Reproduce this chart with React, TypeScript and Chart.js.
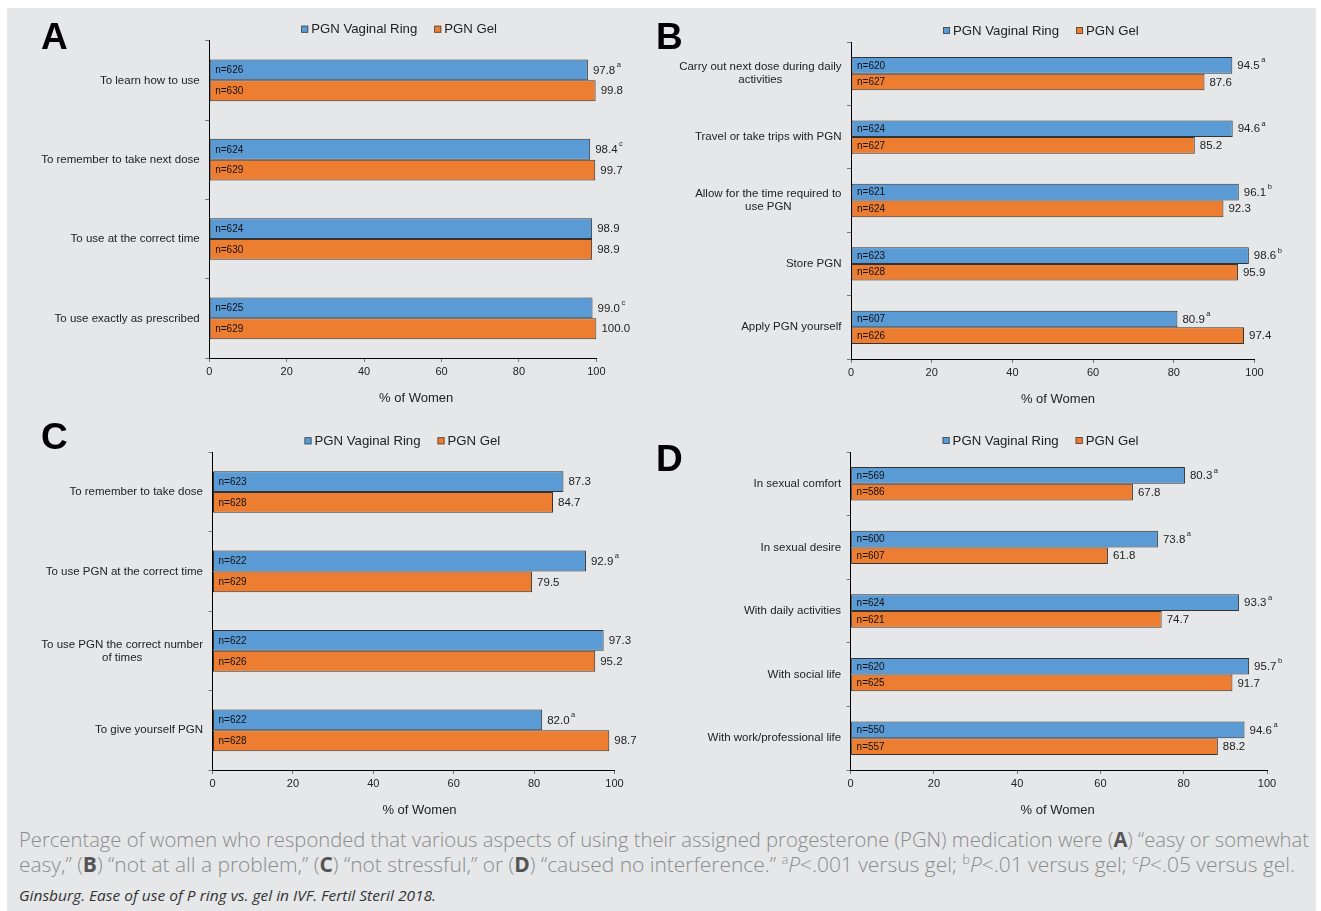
import React, { useEffect, useLayoutEffect, useRef } from "react";
import { Chart, registerables } from "chart.js";

Chart.register(...registerables);

// ---------- data ----------
const SERIES_RING = "PGN Vaginal Ring";
const SERIES_GEL = "PGN Gel";
const X_TICK_STEP = 20;
const X_MIN = 0;
const X_MAX = 100;
const X_TITLE = "% of Women";

// Panel A – "easy or somewhat easy"
const aCategories = [
  "To learn how to use",
  "To remember to take next dose",
  "To use at the correct time",
  "To use exactly as prescribed",
];
const aRing = [97.8, 98.4, 98.9, 99.0];
const aGel = [99.8, 99.7, 98.9, 100.0];
const aRingN = [626, 624, 624, 625];
const aGelN = [630, 629, 630, 629];
const aRingSig = ["a", "c", "", "c"];
const aGelSig = ["", "", "", ""];

// Panel B – "not at all a problem"
const bCategories = [
  ["Carry out next dose during daily", "activities"],
  "Travel or take trips with PGN",
  ["Allow for the time required to", "use PGN"],
  "Store PGN",
  "Apply PGN yourself",
];
const bRing = [94.5, 94.6, 96.1, 98.6, 80.9];
const bGel = [87.6, 85.2, 92.3, 95.9, 97.4];
const bRingN = [620, 624, 621, 623, 607];
const bGelN = [627, 627, 624, 628, 626];
const bRingSig = ["a", "a", "b", "b", "a"];
const bGelSig = ["", "", "", "", ""];

// Panel C – "not stressful"
const cCategories = [
  "To remember to take dose",
  "To use PGN at the correct time",
  ["To use PGN the correct number", "of times"],
  "To give yourself PGN",
];
const cRing = [87.3, 92.9, 97.3, 82.0];
const cGel = [84.7, 79.5, 95.2, 98.7];
const cRingN = [623, 622, 622, 622];
const cGelN = [628, 629, 626, 628];
const cRingSig = ["", "a", "", "a"];
const cGelSig = ["", "", "", ""];

// Panel D – "caused no interference"
const dCategories = [
  "In sexual comfort",
  "In sexual desire",
  "With daily activities",
  "With social life",
  "With work/professional life",
];
const dRing = [80.3, 73.8, 93.3, 95.7, 94.6];
const dGel = [67.8, 61.8, 74.7, 91.7, 88.2];
const dRingN = [569, 600, 624, 620, 550];
const dGelN = [586, 607, 621, 625, 557];
const dRingSig = ["a", "a", "a", "b", "a"];
const dGelSig = ["", "", "", "", ""];

// ---------- style ----------
const FONT = "'Liberation Sans', Arial, Helvetica, sans-serif";
const BLUE = "#5b9bd5";
const ORANGE = "#ed7d31";
const BAR_BORDER = "#333333";
const TEXT = "#222222";
const PAGE_GRAY = "#e6e7e8";
const YW = 10; // y-axis box width
const XH = 30; // x-axis box height

type Layout = { cl: number; ct: number; w: number; h: number; pl: number; pr: number; pt: number; pb: number };

const annotPlugin = {
  id: "annot",
  afterDatasetsDraw(chart: any, _args: any, opts: any) {
    const ctx = chart.ctx as CanvasRenderingContext2D;
    const ca = chart.chartArea;
    ctx.save();
    ctx.textAlign = "left";
    ctx.textBaseline = "middle";
    chart.data.datasets.forEach((ds: any, d: number) => {
      const meta = chart.getDatasetMeta(d);
      const counts = opts.counts[d];
      const sig = opts.sig[d];
      meta.data.forEach((bar: any, i: number) => {
        ctx.font = `10px ${FONT}`;
        ctx.fillStyle = "#111111";
        ctx.fillText("n=" + counts[i], ca.left + 6, bar.y + 0.5);
        const v = Number(ds.data[i]).toFixed(1);
        ctx.font = `11.5px ${FONT}`;
        ctx.fillStyle = TEXT;
        const vx = bar.x + 5;
        ctx.fillText(v, vx, bar.y + 0.5);
        if (sig[i]) {
          const w = ctx.measureText(v).width;
          ctx.font = `7.5px ${FONT}`;
          ctx.fillText(sig[i], vx + w + 1.5, bar.y - 5);
        }
      });
    });
    ctx.restore();
  },
  afterDraw(chart: any) {
    const ctx = chart.ctx as CanvasRenderingContext2D;
    const ca = chart.chartArea;
    const yScale = chart.scales.y;
    ctx.save();
    // category labels
    ctx.font = `11.5px ${FONT}`;
    ctx.fillStyle = TEXT;
    ctx.textAlign = "center";
    ctx.textBaseline = "middle";
    chart.data.labels.forEach((lab: any, i: number) => {
      const lines: string[] = Array.isArray(lab) ? lab : [lab];
      const w = Math.max(...lines.map((l) => ctx.measureText(l).width));
      const cx = ca.left - 9.5 - w / 2;
      const cy = yScale.getPixelForValue(i);
      const lh = 13;
      lines.forEach((l, k) => ctx.fillText(l, cx, cy + (k - (lines.length - 1) / 2) * lh));
    });
    // legend
    ctx.font = `13.2px ${FONT}`;
    ctx.textAlign = "left";
    let lx = ca.left + 92;
    const ly = ca.top - 11.5;
    chart.data.datasets.forEach((ds: any) => {
      ctx.fillStyle = ds.backgroundColor;
      ctx.fillRect(lx, ly - 3.5, 7, 7);
      ctx.strokeStyle = "#444444";
      ctx.lineWidth = 0.8;
      ctx.strokeRect(lx + 0.4, ly - 3.1, 6.2, 6.2);
      ctx.fillStyle = TEXT;
      ctx.fillText(ds.label, lx + 10, ly + 0.5);
      lx += 10 + ctx.measureText(ds.label).width + 17;
    });
    // x axis title
    ctx.font = `13px ${FONT}`;
    ctx.textAlign = "center";
    ctx.fillText(X_TITLE, ca.left + 207, ca.bottom + 40.5);
    ctx.restore();
  },
};

function BarPanel(props: {
  categories: any[];
  ring: number[];
  gel: number[];
  ringN: number[];
  gelN: number[];
  ringSig: string[];
  gelSig: string[];
  layout: Layout;
}) {
  const ref = useRef<HTMLCanvasElement>(null);
  const L = props.layout;
  useEffect(() => {
    if (!ref.current) return;
    const common = { borderColor: BAR_BORDER, borderWidth: 1, borderSkipped: false, categoryPercentage: 0.525, barPercentage: 1 };
    const chart = new Chart(ref.current, {
      type: "bar",
      data: {
        labels: props.categories,
        datasets: [
          { label: SERIES_RING, data: props.ring, backgroundColor: BLUE, ...common },
          { label: SERIES_GEL, data: props.gel, backgroundColor: ORANGE, ...common },
        ],
      },
      options: {
        indexAxis: "y",
        responsive: false,
        maintainAspectRatio: false,
        animation: false,
        events: [],
        layout: {
          padding: {
            left: L.pl - L.cl - YW,
            right: L.cl + L.w - L.pr,
            top: L.pt - L.ct,
            bottom: L.ct + L.h - L.pb - XH,
          },
        },
        plugins: {
          legend: { display: false },
          tooltip: { enabled: false },
          annot: { counts: [props.ringN, props.gelN], sig: [props.ringSig, props.gelSig] },
        },
        scales: {
          x: {
            min: X_MIN,
            max: X_MAX,
            ticks: { stepSize: X_TICK_STEP, color: TEXT, font: { size: 11, family: FONT }, padding: 3, maxRotation: 0 },
            grid: { drawOnChartArea: false, drawTicks: true, tickLength: 4, tickColor: "#777777" },
            border: { display: true, color: "#000000", width: 1 },
            afterFit: (s: any) => {
              s.height = XH;
            },
          },
          y: {
            ticks: { display: false },
            grid: { drawOnChartArea: false, drawTicks: true, tickLength: 4, tickColor: "#777777", offset: true },
            border: { display: true, color: "#000000", width: 1 },
            afterFit: (s: any) => {
              s.width = YW;
            },
          },
        },
      } as any,
      plugins: [annotPlugin as any],
    });
    return () => chart.destroy();
  }, []);
  return (
    <canvas
      ref={ref}
      width={L.w}
      height={L.h}
      style={{ position: "absolute", left: L.cl, top: L.ct, width: L.w, height: L.h }}
    />
  );
}

function FitLine(props: { target: number; left: number; top: number; style: React.CSSProperties; children: any }) {
  const ref = useRef<HTMLSpanElement>(null);
  useLayoutEffect(() => {
    const fit = () => {
      const el = ref.current;
      if (!el) return;
      el.style.transform = "none";
      const w = el.getBoundingClientRect().width;
      if (w > 0) el.style.transform = `scaleX(${props.target / w})`;
    };
    fit();
    if ((document as any).fonts && (document as any).fonts.ready) (document as any).fonts.ready.then(fit);
  }, [props.target]);
  return (
    <span
      ref={ref}
      style={{
        position: "absolute",
        left: props.left,
        top: props.top,
        display: "inline-block",
        whiteSpace: "nowrap",
        transformOrigin: "left top",
        ...props.style,
      }}
    >
      {props.children}
    </span>
  );
}

const letterStyle: React.CSSProperties = {
  position: "absolute",
  fontFamily: FONT,
  fontWeight: 700,
  fontSize: 37,
  lineHeight: "37px",
  color: "#000",
};

const capStyle: React.CSSProperties = {
  fontFamily: "'Open Sans', 'Noto Sans', sans-serif",
  fontWeight: 300,
  fontSize: 21,
  lineHeight: "21px",
  color: "#8a8c8e",
};
const bStyle: React.CSSProperties = { fontWeight: 700, color: "#555" };
const supStyle: React.CSSProperties = { fontSize: 13, verticalAlign: "super", lineHeight: 0 };

export default function App() {
  useEffect(() => {
    document.body.style.margin = "0";
  }, []);
  return (
    <div style={{ position: "absolute", left: 0, top: 0, width: 1321, height: 911, background: "#fff", overflow: "hidden" }}>
      <div style={{ position: "absolute", left: 7, top: 8, width: 1309, height: 903, background: PAGE_GRAY }} />
      <BarPanel
        categories={aCategories}
        ring={aRing}
        gel={aGel}
        ringN={aRingN}
        gelN={aGelN}
        ringSig={aRingSig}
        gelSig={aGelSig}
        layout={{ cl: 8, ct: 8, w: 650, h: 405, pl: 209.2, pr: 596.4, pt: 40.7, pb: 358 }}
      />
      <BarPanel
        categories={bCategories}
        ring={bRing}
        gel={bGel}
        ringN={bRingN}
        gelN={bGelN}
        ringSig={bRingSig}
        gelSig={bGelSig}
        layout={{ cl: 658, ct: 8, w: 658, h: 405, pl: 851, pr: 1254.5, pt: 42, pb: 359 }}
      />
      <BarPanel
        categories={cCategories}
        ring={cRing}
        gel={cGel}
        ringN={cRingN}
        gelN={cGelN}
        ringSig={cRingSig}
        gelSig={cGelSig}
        layout={{ cl: 8, ct: 415, w: 650, h: 410, pl: 212.5, pr: 614.5, pt: 452.3, pb: 770 }}
      />
      <BarPanel
        categories={dCategories}
        ring={dRing}
        gel={dGel}
        ringN={dRingN}
        gelN={dGelN}
        ringSig={dRingSig}
        gelSig={dGelSig}
        layout={{ cl: 658, ct: 415, w: 658, h: 410, pl: 850.6, pr: 1267, pt: 452, pb: 770 }}
      />
      <div style={{ ...letterStyle, left: 41, top: 18 }}>A</div>
      <div style={{ ...letterStyle, left: 656, top: 18 }}>B</div>
      <div style={{ ...letterStyle, left: 41, top: 418 }}>C</div>
      <div style={{ ...letterStyle, left: 656, top: 440 }}>D</div>
      <FitLine target={1290} left={18.5} top={829.3} style={capStyle}>
        Percentage of women who responded that various aspects of using their assigned progesterone (PGN) medication were (
        <b style={bStyle}>A</b>) “easy or somewhat
      </FitLine>
      <FitLine target={1276} left={18.5} top={854.3} style={capStyle}>
        easy,” (<b style={bStyle}>B</b>) “not at all a problem,” (<b style={bStyle}>C</b>) “not stressful,” or (
        <b style={bStyle}>D</b>) “caused no interference.” <sup style={supStyle}>a</sup>
        <i>P</i>&lt;.001 versus gel; <sup style={supStyle}>b</sup>
        <i>P</i>&lt;.01 versus gel; <sup style={supStyle}>c</sup>
        <i>P</i>&lt;.05 versus gel.
      </FitLine>
      <FitLine
        target={417}
        left={18.5}
        top={889}
        style={{ fontFamily: "'Open Sans', 'Noto Sans', sans-serif", fontStyle: "italic", fontSize: 14, lineHeight: "14px", color: "#333" }}
      >
        Ginsburg. Ease of use of P ring vs. gel in IVF. Fertil Steril 2018.
      </FitLine>
    </div>
  );
}
